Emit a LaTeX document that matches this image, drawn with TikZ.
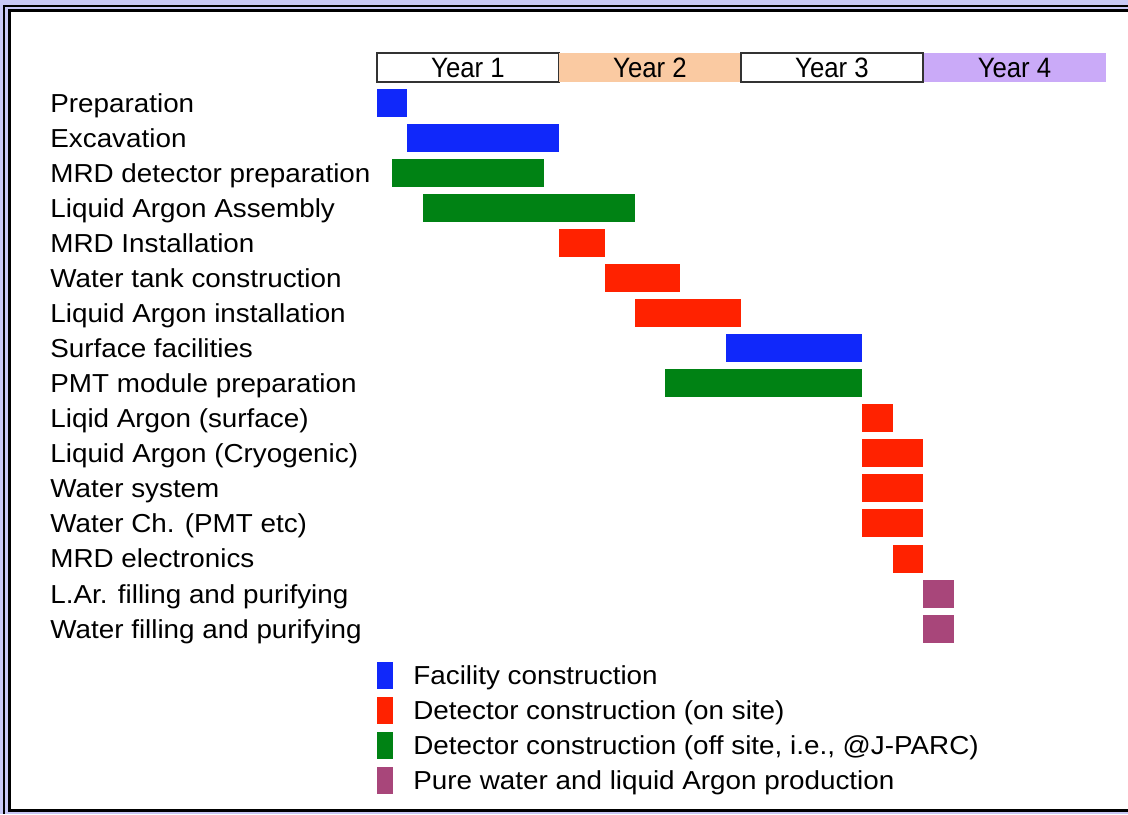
\documentclass[tikz,border=0pt]{standalone}
\usepackage{fontspec}
\setmainfont{Liberation Sans}[FakeStretch=1.07]
\newfontfamily\yearfont{Liberation Sans}[FakeStretch=0.92]
\definecolor{framebg}{RGB}{200,200,245}
\definecolor{facblue}{RGB}{16,40,250}
\definecolor{onsitered}{RGB}{255,34,0}
\definecolor{offsitegreen}{RGB}{0,130,20}
\definecolor{prodpurple}{RGB}{168,70,122}
\definecolor{yeartwo}{RGB}{250,202,162}
\definecolor{yearfour}{RGB}{202,170,248}
\begin{document}
\begin{tikzpicture}[
        x=0.5pt, y=-0.5pt,
        task/.style={anchor=base west, inner sep=0pt, font=\fontsize{13}{15}\selectfont},
        yearbox/.style={minimum width=91pt, minimum height=14.5pt, inner sep=0pt,
                text height=9.8pt, text depth=0pt,
                font=\yearfont\fontsize{14}{16}\selectfont},
        facility/.style={fill=facblue},
        onsite/.style={fill=onsitered},
        offsite/.style={fill=offsitegreen},
        production/.style={fill=prodpurple}
    ]
    \useasboundingbox (0,0) rectangle (1128,814);
    \fill[framebg] (0,0) rectangle (1128,814);
    \fill[white] (11,11) rectangle (1128,809);
    \draw[line width=1pt] (1128,5.5) -- (4,5.5) -- (4,814);
    \draw[line width=1.5pt] (1128,10) -- (9.5,10) -- (9.5,810.5) -- (1128,810.5);

    \node[yearbox, draw=black!80, line width=0.7pt] (year1) at (468,67.5) {Year 1};
    \node[yearbox, fill=yeartwo] (year2) at (650,67.5) {Year 2};
    \node[yearbox, draw=black!80, line width=0.7pt] (year3) at (832,67.5) {Year 3};
    \node[yearbox, fill=yearfour] (year4) at (1014.5,67.5) {Year 4};

    \node[task] (prep) at (50,112) {Preparation};
    \node[task] (excav) at (50,147) {Excavation};
    \node[task] (mrdprep) at (50,182) {MRD detector preparation};
    \node[task] (larassembly) at (50,217) {Liquid Argon Assembly};
    \node[task] (mrdinstall) at (50,252) {MRD Installation};
    \node[task] (watertank) at (50,287) {Water tank construction};
    \node[task] (larinstall) at (50,322) {Liquid Argon installation};
    \node[task] (surface) at (50,357) {Surface facilities};
    \node[task] (pmtprep) at (50,392) {PMT module preparation};
    \node[task] (larsurface) at (50,427) {Liqid Argon (surface)};
    \node[task] (larcryo) at (50,462) {Liquid Argon (Cryogenic)};
    \node[task] (watersys) at (50,497) {Water system};
    \node[task] (waterch) at (50,532) {Water Ch. (PMT etc)};
    \node[task] (mrdelec) at (50,567.5) {MRD electronics};
    \node[task] (larfill) at (50,603) {L.Ar. filling and purifying};
    \node[task] (waterfill) at (50,638) {Water filling and purifying};

    \fill[facility] (377,89) rectangle (407.3,117);
    \fill[facility] (407.3,124) rectangle (559,152);
    \fill[offsite] (392.2,159) rectangle (543.9,187);
    \fill[offsite] (422.5,194) rectangle (634.9,222);
    \fill[onsite] (559,229) rectangle (604.6,257);
    \fill[onsite] (604.6,264) rectangle (680.4,292);
    \fill[onsite] (634.9,299) rectangle (741.1,327);
    \fill[facility] (725.9,334) rectangle (862.4,362);
    \fill[offsite] (665.2,369) rectangle (862.4,397);
    \fill[onsite] (862.4,404) rectangle (892.8,432);
    \fill[onsite] (862.4,439) rectangle (923.1,467);
    \fill[onsite] (862.4,474) rectangle (923.1,502);
    \fill[onsite] (862.4,509) rectangle (923.1,537);
    \fill[onsite] (892.8,544.5) rectangle (923.1,572.5);
    \fill[production] (923.1,580) rectangle (953.5,608);
    \fill[production] (923.1,615) rectangle (953.5,643);

    \fill[facility] (377,662) rectangle (393,689);
    \fill[onsite] (377,697) rectangle (393,724);
    \fill[offsite] (377,732) rectangle (393,759);
    \fill[production] (377,767) rectangle (393,794);
    \node[task] (legfacility) at (413,684.5) {Facility construction};
    \node[task] (legonsite) at (413,719.5) {Detector construction (on site)};
    \node[task] (legoffsite) at (413,754.5) {Detector construction (off site, i.e., @J-PARC)};
    \node[task] (legproduction) at (413,789.5) {Pure water and liquid Argon production};
\end{tikzpicture}
\end{document}
